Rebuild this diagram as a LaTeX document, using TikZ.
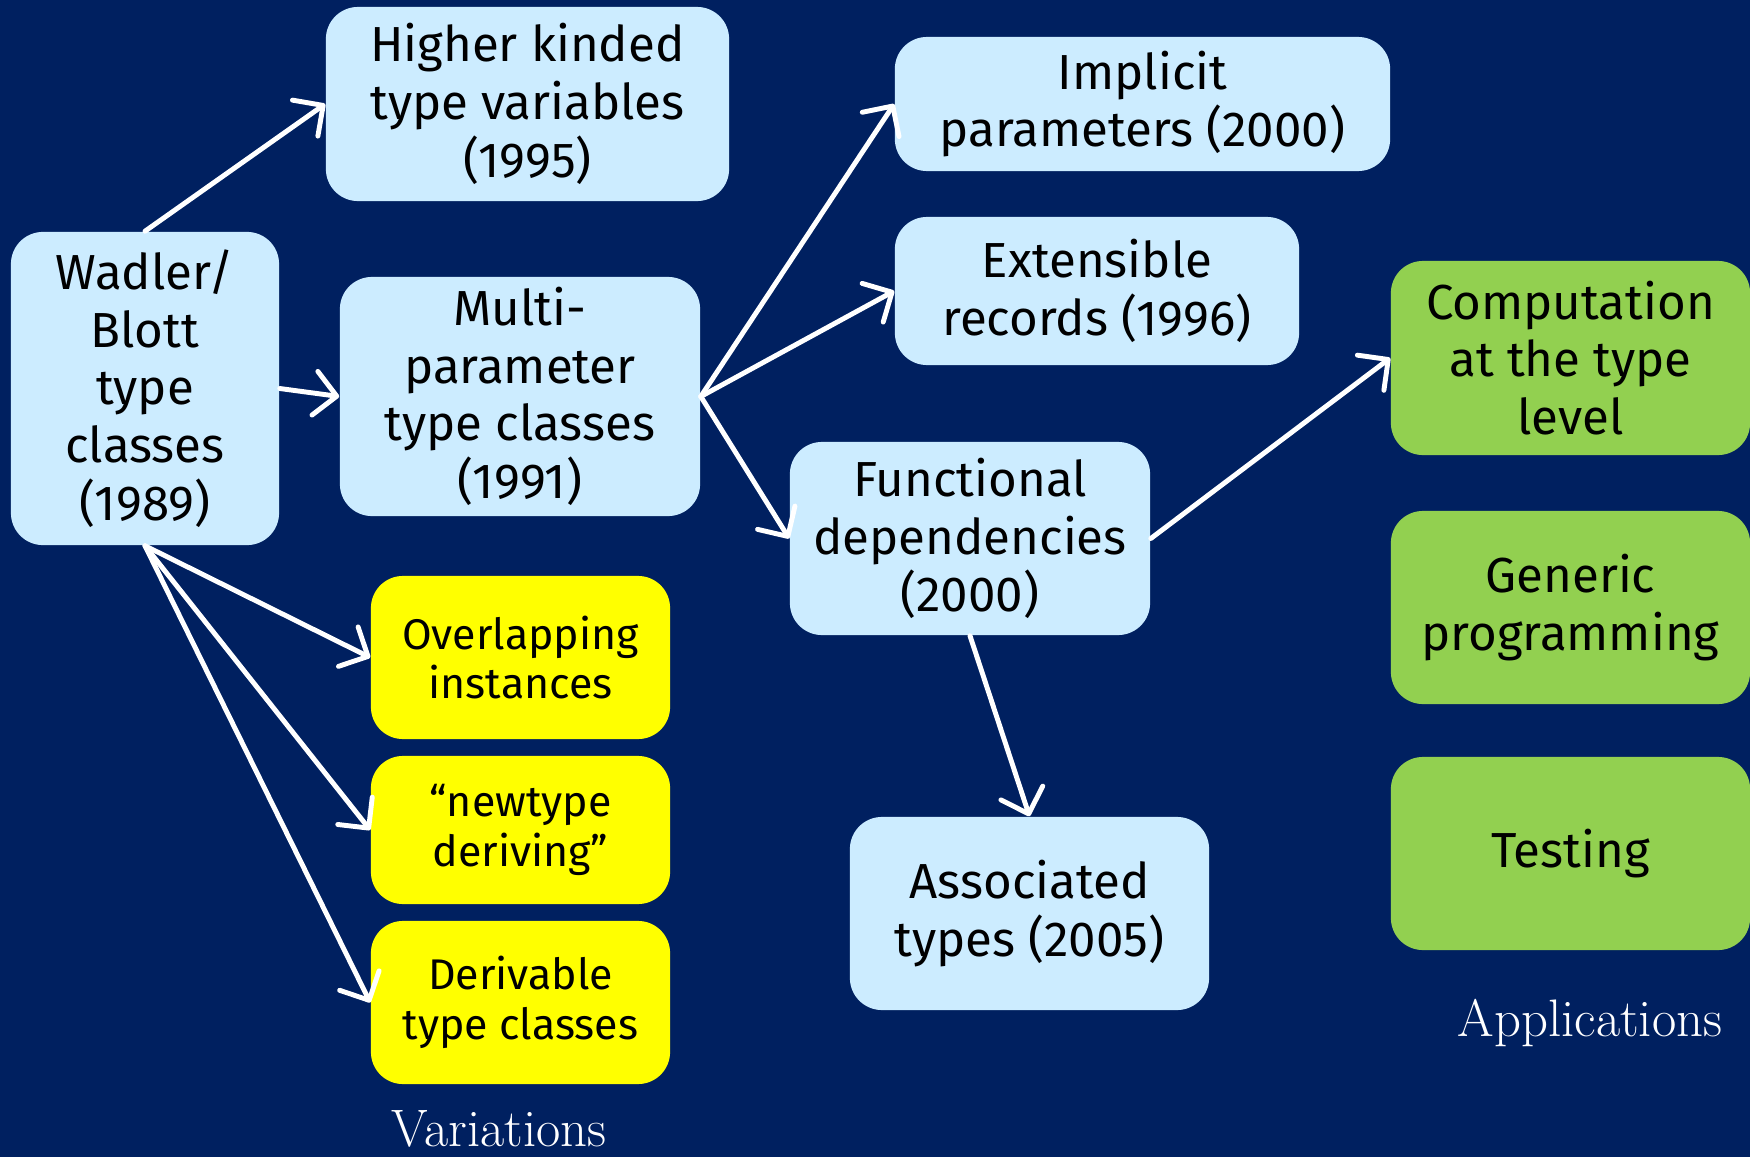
\documentclass[tikz,border=0pt]{standalone}
\usepackage{fontspec}
\newfontfamily\boxfont{Fira Sans}
\usepackage{tikz}
\usetikzlibrary{positioning, arrows.meta}

\definecolor{slidenavy}{RGB}{0,32,96}
\definecolor{paleblue}{RGB}{204,236,255}
\definecolor{variantyellow}{RGB}{255,255,0}
\definecolor{appgreen}{RGB}{146,208,80}

\begin{document}
\begin{tikzpicture}[
    x=0.01cm, y=-0.01cm,
    box/.style={rounded corners=0.32cm, inner sep=0pt, align=center, text=black,
        font=\boxfont\fontsize{14}{16.4}\selectfont},
    early/.style={box, fill=paleblue},
    variant/.style={box, fill=variantyellow, font=\boxfont\fontsize{12.2}{14.2}\selectfont},
    app/.style={box, fill=appgreen},
    grouplabel/.style={anchor=base, text=white, font=\fontsize{15}{18}\selectfont},
    arrow/.style={-{Straight Barb[length=2.2mm, width=4.4mm, round]}, line width=1.4pt, white, line cap=round}
]

    % Background
    \useasboundingbox (0,0) rectangle (1750,1157);
    \fill[slidenavy] (0,0) rectangle (1750,1157);
    \clip (0,0) rectangle (1750,1157);

    % Type class extensions
    \node[early, minimum width=2.68cm, minimum height=3.13cm] (wadler) at (145,388.5)
        {Wadler/\\Blott\\type\\classes\\(1989)};
    \node[early, minimum width=4.03cm, minimum height=1.94cm] (higher) at (527.5,104)
        {Higher kinded\\type variables\\(1995)};
    \node[early, minimum width=3.60cm, minimum height=2.39cm] (multi) at (520,396.5)
        {Multi-\\parameter\\type classes\\(1991)};
    \node[early, minimum width=4.95cm, minimum height=1.34cm] (implicit) at (1142.5,104)
        {Implicit\\parameters (2000)};
    \node[early, minimum width=4.04cm, minimum height=1.48cm] (records) at (1097,291)
        {Extensible\\records (1996)};
    \node[early, minimum width=3.60cm, minimum height=1.93cm] (fundeps) at (970,538.5)
        {Functional\\dependencies\\(2000)};
    \node[early, minimum width=3.59cm, minimum height=1.93cm] (assoc) at (1029.5,913.5)
        {Associated\\types (2005)};

    % Variations
    \node[variant, minimum width=2.99cm, minimum height=1.63cm] (overlap) at (520.5,657.5)
        {Overlapping\\instances};
    \node[variant, minimum width=2.99cm, minimum height=1.48cm] (newtype) at (520.5,830)
        {“newtype\\deriving”};
    \node[variant, minimum width=2.99cm, minimum height=1.63cm] (derive) at (520.5,1002.5)
        {Derivable\\type classes};
    \node[grouplabel] (variations) at (499,1146) {Variations};

    % Applications
    \node[app, minimum width=3.59cm, minimum height=1.94cm] (compute) at (1570.5,358)
        {Computation\\at the type\\level};
    \node[app, minimum width=3.59cm, minimum height=1.93cm] (generic) at (1570.5,607.5)
        {Generic\\programming};
    \node[app, minimum width=3.59cm, minimum height=1.93cm] (testing) at (1570.5,853.5)
        {Testing};
    \node[grouplabel] (applications) at (1590,1036) {Applications};

    % Arrows
    \draw[arrow] (wadler.north) -- (higher.west);
    \draw[arrow] (wadler.east) -- (multi.west);
    \draw[arrow] (wadler.south) -- (overlap.west);
    \draw[arrow] (wadler.south) -- (newtype.west);
    \draw[arrow] (wadler.south) -- (derive.west);
    \draw[arrow] (multi.east) -- (implicit.west);
    \draw[arrow] (multi.east) -- (records.west);
    \draw[arrow] (multi.east) -- (fundeps.west);
    \draw[arrow] (fundeps.east) -- (compute.west);
    \draw[arrow] (fundeps.south) -- (assoc.north);

\end{tikzpicture}
\end{document}
